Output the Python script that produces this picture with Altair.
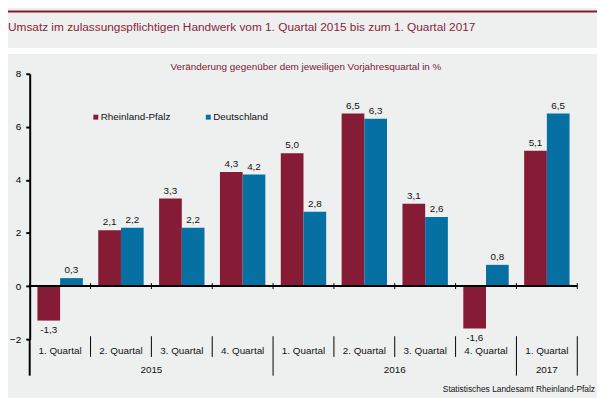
import altair as alt
import pandas as pd

# ---------------- data ----------------
quarters = ["1. Quartal", "2. Quartal", "3. Quartal", "4. Quartal",
            "1. Quartal", "2. Quartal", "3. Quartal", "4. Quartal",
            "1. Quartal"]
years = [2015, 2015, 2015, 2015, 2016, 2016, 2016, 2016, 2017]
series = ["Rheinland-Pfalz", "Deutschland"]
rlp = [-1.3, 2.1, 3.3, 4.3, 5.0, 6.5, 3.1, -1.6, 5.1]
de = [0.3, 2.2, 2.2, 4.2, 2.8, 6.3, 2.6, 0.8, 6.5]
y_ticks = [-2, 0, 2, 4, 6, 8]

title_text = "Umsatz im zulassungspflichtigen Handwerk vom 1. Quartal 2015 bis zum 1. Quartal 2017"
subtitle_text = "Veränderung gegenüber dem jeweiligen Vorjahresquartal in %"
source_text = "Statistisches Landesamt Rheinland-Pfalz"

# ---------------- styling ----------------
FONT = "Liberation Sans"
colors = ["#861b35", "#0770a2"]
BG = "#eef0ef"
TITLE_COLOR = "#8a1f3d"
SUB_COLOR = "#7a2035"
W, H = 555, 269

cats = [f"{q} {y}" for q, y in zip(quarters, years)]
rows = []
for i, c in enumerate(cats):
    for s, vals in zip(series, [rlp, de]):
        v = vals[i]
        rows.append(dict(cat=c, series=s, value=v,
                         label=f"{v:.1f}".replace(".", ",")))
df = pd.DataFrame(rows)
cat_df = pd.DataFrame(dict(cat=cats, quarter=quarters, year=years))
one = pd.DataFrame({"a": [0]})

xscale = alt.Scale(domain=cats, paddingInner=0, paddingOuter=0)
offscale = alt.Scale(domain=series, paddingOuter=0.34, paddingInner=0)
yscale = alt.Scale(domain=[-2, 8], nice=False)


def X(bp=0.5):
    return alt.X("cat:N", scale=xscale, axis=None, bandPosition=bp, sort=cats)


yaxis = alt.Axis(values=y_ticks, grid=False, title=None, domainColor="black",
                 domainWidth=2, tickColor="black", tickWidth=2, tickSize=4,
                 labelFontSize=10, labelColor="black", labelPadding=5,
                 labelFont=FONT)

bars = alt.Chart(df).mark_bar().encode(
    x=alt.X("cat:N", scale=xscale, axis=None, sort=cats),
    xOffset=alt.XOffset("series:N", scale=offscale, sort=series),
    y=alt.Y("value:Q", scale=yscale, axis=yaxis),
    color=alt.Color("series:N", scale=alt.Scale(domain=series, range=colors), legend=None),
)

lab_pos = alt.Chart(df).transform_filter("datum.value >= 0").mark_text(
    baseline="bottom", dy=-3, fontSize=10, font=FONT, color="#111"
).encode(
    x=alt.X("cat:N", scale=xscale, axis=None, sort=cats),
    xOffset=alt.XOffset("series:N", scale=offscale, sort=series),
    y=alt.Y("value:Q", scale=yscale),
    text="label:N",
)
lab_neg = alt.Chart(df).transform_filter("datum.value < 0").mark_text(
    baseline="top", dy=5, fontSize=10, font=FONT, color="#111"
).encode(
    x=alt.X("cat:N", scale=xscale, axis=None, sort=cats),
    xOffset=alt.XOffset("series:N", scale=offscale, sort=series),
    y=alt.Y("value:Q", scale=yscale),
    text="label:N",
)

zero = alt.Chart(one).mark_rule(strokeWidth=2, color="black").encode(
    y=alt.datum(0, scale=yscale))

zticks = alt.Chart(cat_df).mark_rule(color="black", strokeWidth=1, yOffset=-3, y2Offset=3).encode(
    x=X(0), y=alt.datum(0), y2=alt.datum(0))
zticks_end = alt.Chart(cat_df.tail(1)).mark_rule(color="black", strokeWidth=1, yOffset=-3, y2Offset=3).encode(
    x=X(1), y=alt.datum(0), y2=alt.datum(0))

short_sep = alt.Chart(cat_df).transform_filter("datum.quarter != '1. Quartal'").mark_rule(
    color="black", strokeWidth=1).encode(x=X(0), y=alt.value(H - 3), y2=alt.value(H + 18))
long_sep = alt.Chart(cat_df.iloc[1:]).transform_filter("datum.quarter == '1. Quartal'").mark_rule(
    color="black", strokeWidth=1).encode(x=X(0), y=alt.value(H - 3), y2=alt.value(H + 37))
long_end = alt.Chart(cat_df.tail(1)).mark_rule(color="black", strokeWidth=1).encode(
    x=X(1), y=alt.value(H - 3), y2=alt.value(H + 37))
yext = alt.Chart(one).mark_rule(color="black", strokeWidth=2).encode(
    x=alt.value(0), y=alt.value(H), y2=alt.value(H + 37))

qlabels = alt.Chart(cat_df).mark_text(fontSize=10, font=FONT, baseline="middle", color="#111").encode(
    x=X(0.5), y=alt.value(H + 12), text="quarter:N")

# year labels: centred under the quarters of each year
yr_rows = []
for y in sorted(set(years)):
    yc = [c for c, yy in zip(cats, years) if yy == y]
    n = len(yc)
    yr_rows.append(dict(cat=yc[n // 2], year=str(y), even=(n % 2 == 0)))
yr_df = pd.DataFrame(yr_rows)
ylab_even = alt.Chart(yr_df).transform_filter("datum.even").mark_text(
    fontSize=10, font=FONT, baseline="middle", color="#111").encode(
    x=X(0), y=alt.value(H + 31), text="year:N")
ylab_odd = alt.Chart(yr_df).transform_filter("!datum.even").mark_text(
    fontSize=10, font=FONT, baseline="middle", color="#111").encode(
    x=X(0.5), y=alt.value(H + 31), text="year:N")

# decorations / texts
topline = alt.Chart(one).mark_rule(color="#861b35", strokeWidth=2).encode(
    x=alt.value(-22), x2=alt.value(W + 20), y=alt.value(-63))
whiteband = alt.Chart(one).mark_rule(color="white", strokeWidth=6).encode(
    x=alt.value(-22), x2=alt.value(W + 20), y=alt.value(-23))
title = alt.Chart(one).mark_text(text=title_text, fontSize=12, font=FONT, align="left",
                                 baseline="middle", color=TITLE_COLOR).encode(
    x=alt.value(-22), y=alt.value(-47))
subtitle = alt.Chart(one).mark_text(text=subtitle_text, fontSize=10, font=FONT, align="center",
                                    baseline="middle", color=SUB_COLOR).encode(
    x=alt.value(280), y=alt.value(-7))
source = alt.Chart(one).mark_text(text=source_text, fontSize=8.5, font=FONT, align="right",
                                  baseline="middle", color="#111").encode(
    x=alt.value(W + 18), y=alt.value(H + 51))

leg = []
for name, col, lx in zip(series, colors, [67, 181]):
    leg.append(alt.Chart(one).mark_square(size=25, color=col, opacity=1).encode(
        x=alt.value(lx), y=alt.value(44)))
    leg.append(alt.Chart(one).mark_text(text=name, fontSize=10, font=FONT, align="left",
                                        baseline="middle", color="#111").encode(
        x=alt.value(lx + 5), y=alt.value(44)))

chart = alt.layer(
    topline, whiteband, title, subtitle,
    bars, zero, zticks, zticks_end, lab_pos, lab_neg,
    short_sep, long_sep, long_end, yext, qlabels, ylab_even, ylab_odd, source, *leg
).properties(
    width=W, height=H,
    padding={"left": 22, "top": 64, "right": 20, "bottom": 57},
    autosize=alt.AutoSizeParams(type="none"),
    background=BG,
).configure_view(stroke=None)

chart.save("out.html", embed_options={"renderer": "svg", "actions": False})
